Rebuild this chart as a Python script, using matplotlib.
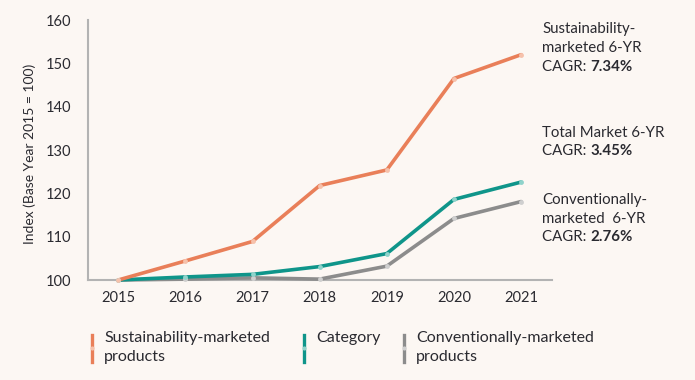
import matplotlib.pyplot as plt
from matplotlib.lines import Line2D

plt.rcParams['font.family'] = ['Lato', 'DejaVu Sans']

# datos
anios = [2015, 2016, 2017, 2018, 2019, 2020, 2021]
sostenible = [100, 104.4, 108.9, 121.8, 125.4, 146.5, 152.0]
categoria = [100, 100.7, 101.3, 103.1, 106.1, 118.6, 122.6]
convencional = [100, 100.2, 100.5, 100.2, 103.2, 114.2, 118.1]

etiquetas = ['Sustainability-marketed\nproducts', 'Category', 'Conventionally-marketed\nproducts']
cagr_titulos = [['Sustainability-', 'marketed 6-YR'], ['Total Market 6-YR'],
                ['Conventionally-', 'marketed  6-YR']]
cagr_valores = ['7.34%', '3.45%', '2.76%']

fondo = '#fcf7f3'
texto = '#2a2a30'
colores = ['#e97f59', '#0f958a', '#8c8c8c']
puntos = ['#f6c1ab', '#8fd3cb', '#cfcfcf']

fig = plt.figure(figsize=(6.95, 3.8), dpi=100, facecolor=fondo)
ax = fig.add_axes([88 / 695, 1 - 280 / 380, 464 / 695, 260 / 380])
ax.set_facecolor(fondo)

# dibuja las líneas: primero gris, luego teal, luego naranja
for serie, c, p in [(convencional, colores[2], puntos[2]),
                    (categoria, colores[1], puntos[1]),
                    (sostenible, colores[0], puntos[0])]:
    ax.plot(anios, serie, color=c, lw=2.6, clip_on=False, zorder=3,
            solid_capstyle='round')
    ax.plot(anios, serie, 'o', color=p, ms=3.5, mec='none', clip_on=False, zorder=4)

ax.set_xlim(2014.55, 2021.46)
ax.set_ylim(100, 160)
ax.set_xticks(anios)
ax.set_yticks(range(100, 161, 10))
ax.tick_params(length=0, labelsize=10.5, colors=texto)
ax.tick_params(axis='y', pad=12)
ax.tick_params(axis='x', pad=8)
for s in ['top', 'right']:
    ax.spines[s].set_visible(False)
for s in ['left', 'bottom']:
    ax.spines[s].set_color('#b3b3b3')
    ax.spines[s].set_linewidth(1.5)
ax.set_ylabel('Index (Base Year 2015 = 100)', fontsize=10, color=texto)
ax.yaxis.set_label_coords(-0.113, 0.485)

# anotaciones de CAGR, una línea cada vez
filas_y = [[29, 48, 67], [133, 151], [200, 219, 237]]
for titulo, valor, ys in zip(cagr_titulos, cagr_valores, filas_y):
    for linea, y in zip(titulo, ys):
        fig.text(542 / 695, 1 - y / 380, linea, fontsize=10.8, color=texto,
                 va='center', ha='left')
    t = fig.text(542 / 695, 1 - ys[-1] / 380, 'CAGR: ', fontsize=10.8,
                 color=texto, va='center', ha='left')
    ax.annotate(valor, xy=(1, 0.5), xycoords=t, va='center', ha='left',
                fontsize=10.8, fontweight='bold', color=texto)

# leyenda manual
leyenda_x = [92, 304, 404]
for x, c, p, lab in zip(leyenda_x, colores, puntos, etiquetas):
    fig.add_artist(Line2D([x / 695, x / 695], [1 - 335 / 380, 1 - 362 / 380],
                          color=c, lw=2.4))
    fig.add_artist(Line2D([x / 695], [1 - 348 / 380], marker='o', ms=3,
                          color=p, mec='none'))
    for i, parte in enumerate(lab.split('\n')):
        fig.text((x + 12) / 695, 1 - (338 + 19 * i) / 380, parte, fontsize=11.5,
                 color=texto, va='center', ha='left')

plt.savefig('out.png', dpi=100, facecolor=fondo)
